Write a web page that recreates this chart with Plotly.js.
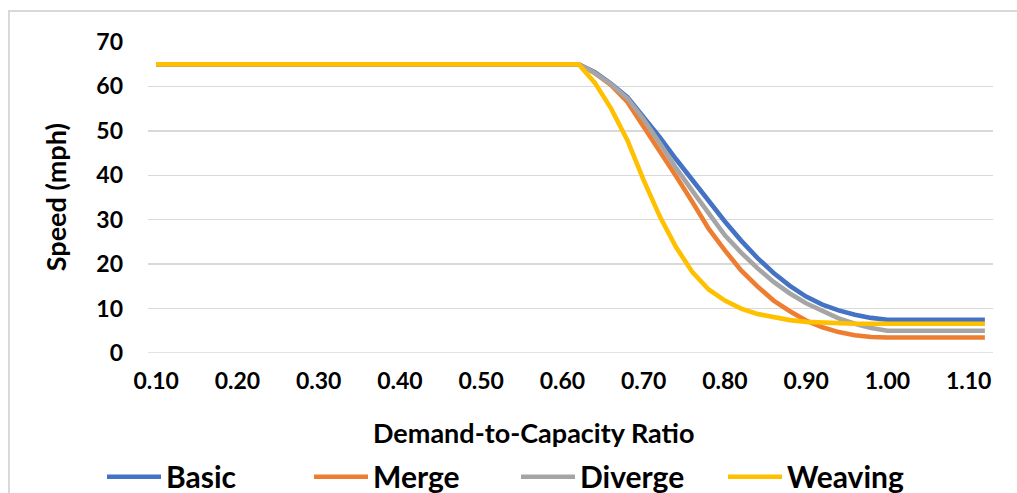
<!DOCTYPE html>
<html>
<head>
<meta charset="utf-8">
<script src="https://cdn.plot.ly/plotly-3.0.1.min.js"></script>
<style>
  html, body { margin: 0; padding: 0; background: #ffffff; }
  #chart { width: 1017px; height: 493px; }
  #frame { position: absolute; left: 8px; top: 10px; width: 1200px; height: 600px;
           border-left: 2px solid #D9D9D9; border-top: 2px solid #D9D9D9; pointer-events: none; }
</style>
</head>
<body>
<div id="chart"></div>
<div id="frame"></div>
<script>
// Demand-to-capacity ratio categories
const ratio = [0.10,0.12,0.14,0.16,0.18,0.20,0.22,0.24,0.26,0.28,
               0.30,0.32,0.34,0.36,0.38,0.40,0.42,0.44,0.46,0.48,
               0.50,0.52,0.54,0.56,0.58,0.60,0.62,0.64,0.66,0.68,
               0.70,0.72,0.74,0.76,0.78,0.80,0.82,0.84,0.86,0.88,
               0.90,0.92,0.94,0.96,0.98,1.00,1.02,1.04,1.06,1.08,
               1.10,1.12];

// Speed (mph) per segment type
const basic = [65,65,65,65,65,65,65,65,65,65,
               65,65,65,65,65,65,65,65,65,65,
               65,65,65,65,65,65,65,63.2,60.6,57.6,
               53.2,48.5,43.6,38.8,34.2,29.6,25.3,21.4,18.0,15.1,
               12.7,10.9,9.6,8.6,7.9,7.5,7.5,7.5,7.5,7.5,
               7.5,7.5];
const merge = [65,65,65,65,65,65,65,65,65,65,
               65,65,65,65,65,65,65,65,65,65,
               65,65,65,65,65,65,65,63.0,60.3,56.5,
               51.0,45.6,39.8,34.0,28.0,23.1,18.6,15.0,11.8,9.4,
               7.3,5.8,4.7,4.0,3.6,3.5,3.5,3.5,3.5,3.5,
               3.5,3.5];
const diverge = [65,65,65,65,65,65,65,65,65,65,
                 65,65,65,65,65,65,65,65,65,65,
                 65,65,65,65,65,65,65,63.0,60.5,57.3,
                 52.6,47.2,41.6,36.5,31.3,26.5,22.6,19.1,16.0,13.4,
                 11.2,9.4,7.8,6.6,5.6,5.0,5.0,5.0,5.0,5.0,
                 5.0,5.0];
const weaving = [65,65,65,65,65,65,65,65,65,65,
                 65,65,65,65,65,65,65,65,65,65,
                 65,65,65,65,65,65,65,60.8,55.0,47.9,
                 38.9,30.7,23.8,18.2,14.3,11.8,10.0,8.8,8.0,7.4,
                 7.0,6.8,6.65,6.6,6.6,6.6,6.6,6.6,6.6,6.6,
                 6.6,6.6];

const seriesNames = ["Basic","Merge","Diverge","Weaving"];
const seriesColors = ["#4472C4","#ED7D31","#A5A5A5","#FFC000"];
const xTickVals = [0.10,0.20,0.30,0.40,0.50,0.60,0.70,0.80,0.90,1.00,1.10];
const yTickVals = [0,10,20,30,40,50,60,70];

const F = "Lato, 'Open Sans', sans-serif";
const seriesData = [basic, merge, diverge, weaving];

const traces = seriesData.map((ys, i) => ({
  type: "scatter",
  mode: "lines",
  x: ratio,
  y: ys,
  name: seriesNames[i],
  line: { color: seriesColors[i], width: 4.6, shape: "linear" },
  hoverinfo: "x+y+name"
}));

const layout = {
  width: 1017,
  height: 493,
  margin: { l: 148, r: 24, t: 42, b: 140, pad: 0, autoexpand: false },
  paper_bgcolor: "#ffffff",
  plot_bgcolor: "#ffffff",
  font: { family: F, color: "#000000" },
  showlegend: true,
  legend: {
    orientation: "h",
    x: (102 - 148) / 845,
    xanchor: "left",
    y: (353.3 - 477) / 311,
    yanchor: "middle",
    font: { family: F, size: 30, weight: 700, color: "#000000" },
    itemwidth: 54,
    entrywidth: 138,
    entrywidthmode: "pixels",
    bgcolor: "rgba(0,0,0,0)",
    borderwidth: 0
  },
  xaxis: {
    type: "linear",
    range: [0.09, 1.13],
    tickvals: xTickVals,
    ticktext: xTickVals.map(v => v.toFixed(2)),
    showgrid: false,
    zeroline: false,
    showline: false,
    ticks: "",
    ticklabelstandoff: 12,
    tickfont: { family: F, size: 23, weight: 700, color: "#000000" }
  },
  yaxis: {
    range: [0, 70],
    tickvals: yTickVals,
    showgrid: true,
    gridcolor: "#D9D9D9",
    gridwidth: 1.5,
    zeroline: false,
    showline: false,
    ticks: "",
    ticklabelstandoff: 24,
    tickfont: { family: F, size: 23, weight: 700, color: "#000000" }
  },
  annotations: [
    {
      text: "Demand-to-Capacity Ratio",
      xref: "paper", yref: "paper",
      x: (533 - 148) / 845, y: (353.3 - 433) / 311,
      xanchor: "center", yanchor: "middle",
      showarrow: false,
      font: { family: F, size: 27, weight: 700, color: "#000000" }
    },
    {
      text: "Speed (mph)",
      xref: "paper", yref: "paper",
      x: (55 - 148) / 845, y: (353.3 - 197.5) / 311,
      xanchor: "center", yanchor: "middle",
      textangle: -90,
      showarrow: false,
      font: { family: F, size: 27, weight: 700, color: "#000000" }
    }
  ],
  shapes: [
    {
      type: "line", xref: "paper", yref: "y",
      x0: 0, x1: 1, y0: 0, y1: 0,
      line: { color: "#D9D9D9", width: 1.5 },
      layer: "below"
    }
  ]
};

Plotly.newPlot("chart", traces, layout, { displayModeBar: false, staticPlot: true });
</script>
</body>
</html>
